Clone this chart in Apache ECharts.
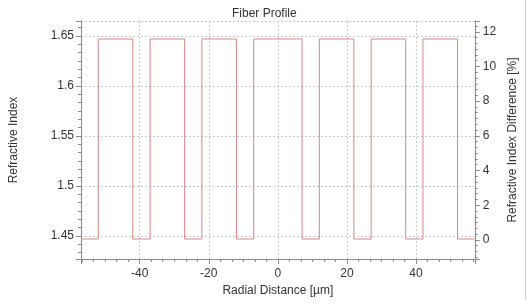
<!DOCTYPE html>
<html>
<head>
<meta charset="utf-8">
<script src="https://cdn.jsdelivr.net/npm/echarts@6/dist/echarts.min.js"></script>
<style>
html,body{margin:0;padding:0;background:#fff;}
#c{width:527px;height:307px;}
</style>
</head>
<body>
<div id="c"></div>
<script>
// Data
var titleText = 'Fiber Profile';
var xName = 'Radial Distance [\u00b5m]';
var yLeftName = 'Refractive Index';
var yRightName = 'Refractive Index Difference [%]';
// step profile: x positions where the index changes, and the index held from each point on
var edgesX = [-57, -52, -42, -37, -27, -22, -12, -7, 7, 12, 22, 27, 37, 42, 52, 57];
var indexValues = [1.447, 1.647, 1.447, 1.647, 1.447, 1.647, 1.447, 1.647, 1.447, 1.647, 1.447, 1.647, 1.447, 1.647, 1.447, 1.447];
var xRange = [-57, 57];
var yLeftRange = [1.427, 1.665];
var yRightRange = [-1.1, 12.62];

var profileData = edgesX.map(function (x, i) { return [x, indexValues[i]]; });

var axisColor = '#8a8a8a';
var textColor = '#333';
var fontFam = '"Liberation Sans", Arial, sans-serif';

var chart = echarts.init(document.getElementById('c'), null, {renderer: 'canvas'});
chart.setOption({
  animation: false,
  backgroundColor: '#fff',
  textStyle: {fontFamily: fontFam},
  title: {
    text: titleText,
    left: 227, top: 3,
    textStyle: {fontSize: 12, fontWeight: 'normal', color: textColor, fontFamily: fontFam}
  },
  grid: {left: 79, right: 44, top: 21, bottom: 48, containLabel: false},
  xAxis: {
    type: 'value',
    min: xRange[0], max: xRange[1],
    splitNumber: 5,
    name: xName, nameLocation: 'middle', nameGap: 24,
    nameTextStyle: {fontSize: 12, color: textColor, fontFamily: fontFam},
    axisLine: {show: true, onZero: false, lineStyle: {color: axisColor, width: 1}},
    axisTick: {show: true, length: 5, lineStyle: {color: axisColor}},
    minorTick: {show: true, splitNumber: 6, length: 3, lineStyle: {color: axisColor}},
    axisLabel: {fontSize: 12, color: textColor, margin: 9, showMinLabel: false, showMaxLabel: false, fontFamily: fontFam},
    splitLine: {show: true, lineStyle: {color: '#c8c8c8', type: [2, 2], width: 1}}
  },
  yAxis: [{
    type: 'value',
    position: 'left',
    min: yLeftRange[0], max: yLeftRange[1],
    splitNumber: 5,
    name: yLeftName, nameLocation: 'middle', nameGap: 61, nameRotate: 90,
    nameTextStyle: {fontSize: 12, color: textColor, fontFamily: fontFam},
    axisLine: {show: true, onZero: false, lineStyle: {color: axisColor, width: 1}},
    axisTick: {show: true, length: 5, lineStyle: {color: axisColor}},
    minorTick: {show: true, splitNumber: 6, length: 3, lineStyle: {color: axisColor}},
    axisLabel: {fontSize: 12, color: textColor, margin: 7, showMinLabel: false, showMaxLabel: false, fontFamily: fontFam},
    splitLine: {show: true, lineStyle: {color: '#c8c8c8', type: [2, 2], width: 1}}
  }, {
    type: 'value',
    position: 'right',
    min: yRightRange[0], max: yRightRange[1],
    splitNumber: 7,
    name: yRightName, nameLocation: 'middle', nameGap: 27, nameRotate: 90,
    nameTextStyle: {fontSize: 12, color: textColor, fontFamily: fontFam},
    axisLine: {show: true, onZero: false, lineStyle: {color: axisColor, width: 1}},
    axisTick: {show: true, length: 5, lineStyle: {color: axisColor}},
    minorTick: {show: true, splitNumber: 6, length: 3, lineStyle: {color: axisColor}},
    axisLabel: {fontSize: 12, color: textColor, margin: 8, showMinLabel: false, showMaxLabel: false, fontFamily: fontFam},
    splitLine: {show: false}
  }],
  series: [{
    type: 'line',
    yAxisIndex: 0,
    step: 'end',
    data: profileData,
    showSymbol: false,
    symbol: 'none',
    lineStyle: {color: '#dc8585', width: 1},
    silent: true
  }],
  graphic: [{
    type: 'line',
    shape: {x1: 525.5, y1: 0, x2: 525.5, y2: 300},
    style: {stroke: '#d0d0d0', lineWidth: 1},
    silent: true
  }]
});
</script>
</body>
</html>
